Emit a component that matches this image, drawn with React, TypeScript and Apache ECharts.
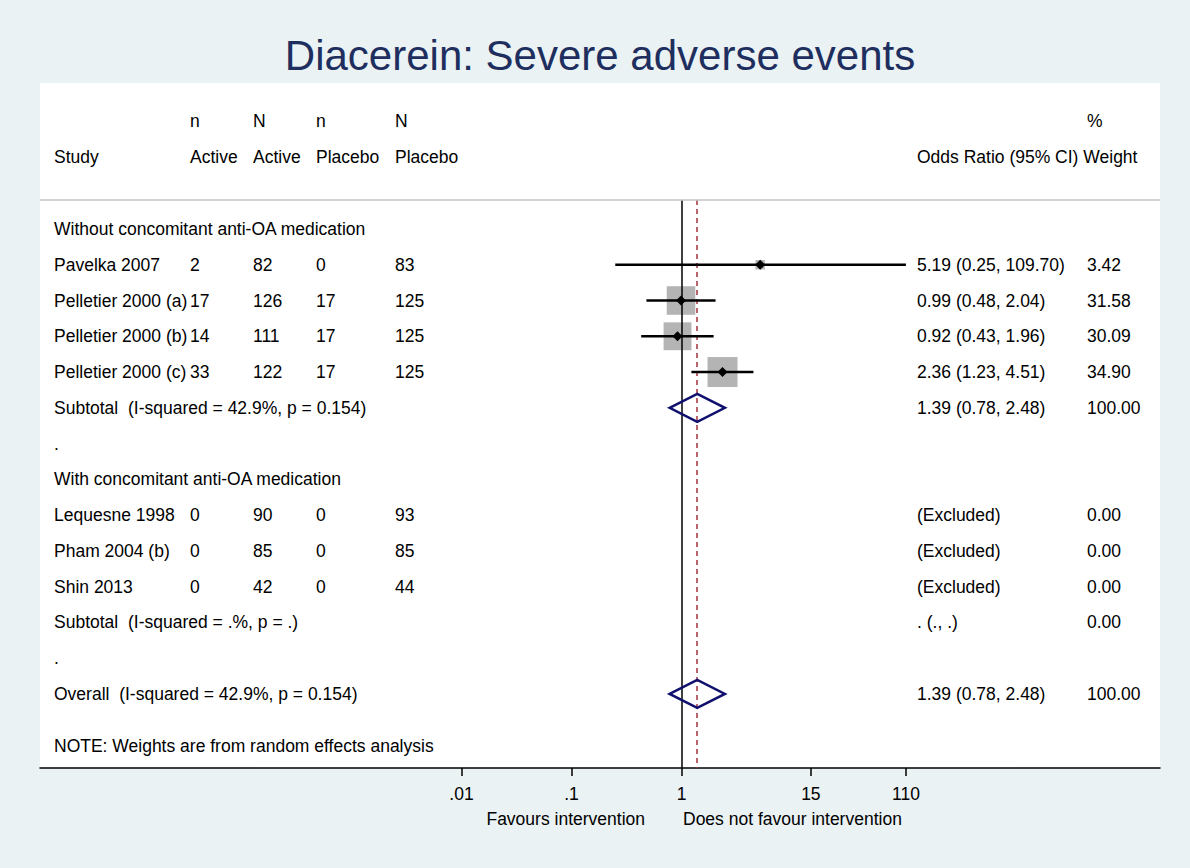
import React, { useEffect, useRef } from "react";
import * as echarts from "echarts";

// ---------- data ----------
const rowStudy = [
  "Without concomitant anti-OA medication",
  "Pavelka 2007",
  "Pelletier 2000 (a)",
  "Pelletier 2000 (b)",
  "Pelletier 2000 (c)",
  "Subtotal  (I-squared = 42.9%, p = 0.154)",
  ".",
  "With concomitant anti-OA medication",
  "Lequesne 1998",
  "Pham 2004 (b)",
  "Shin 2013",
  "Subtotal  (I-squared = .%, p = .)",
  ".",
  "Overall  (I-squared = 42.9%, p = 0.154)",
];
const nActive = ["", "2", "17", "14", "33", "", "", "", "0", "0", "0", "", "", ""];
const NActive = ["", "82", "126", "111", "122", "", "", "", "90", "85", "42", "", "", ""];
const nPlacebo = ["", "0", "17", "17", "17", "", "", "", "0", "0", "0", "", "", ""];
const NPlacebo = ["", "83", "125", "125", "125", "", "", "", "93", "85", "44", "", "", ""];
const orCI = [
  "", "5.19 (0.25, 109.70)", "0.99 (0.48, 2.04)", "0.92 (0.43, 1.96)", "2.36 (1.23, 4.51)",
  "1.39 (0.78, 2.48)", "", "", "(Excluded)", "(Excluded)", "(Excluded)", ". (., .)", "", "1.39 (0.78, 2.48)",
];
const weightText = ["", "3.42", "31.58", "30.09", "34.90", "100.00", "", "", "0.00", "0.00", "0.00", "0.00", "", "100.00"];

const studyRows = [1, 2, 3, 4];
const studyOR = [5.19, 0.99, 0.92, 2.36];
const studyLo = [0.25, 0.48, 0.43, 1.23];
const studyHi = [109.7, 2.04, 1.96, 4.51];
const studyWeight = [3.42, 31.58, 30.09, 34.9];

const pooledRows = [5, 13];
const pooledOR = [1.39, 1.39];
const pooledLo = [0.78, 0.78];
const pooledHi = [2.48, 2.48];

const refLine = 1;
const pooledLine = 1.39;

const xTicks = [0.01, 0.1, 1, 15, 110];
const xTickLabels = [".01", ".1", "1", "15", "110"];

const headerTop = ["n", "N", "n", "N"];
const headerBottom = ["Active", "Active", "Placebo", "Placebo"];

// ---------- styling ----------
const FONT = "'Liberation Sans', Arial, Helvetica, sans-serif";
const FS = 17.5;
const colX = { study: 54, nA: 190, NA: 253, nP: 316, NP: 395, or: 917, w: 1087 };

export default function App() {
  const ref = useRef<HTMLDivElement>(null);
  useEffect(() => {
    if (!ref.current) return;
    const chart = echarts.init(ref.current, undefined, { renderer: "svg" });

    const txt = (text: string, x: number, y: number, extra: any = {}) => ({
      type: "text",
      x,
      y,
      style: { text, fill: "#000", fontSize: FS, fontFamily: FONT, align: "left", verticalAlign: "middle", ...extra },
    });

    const headerCols = [colX.nA, colX.NA, colX.nP, colX.NP];
    const graphics: any[] = [
      { type: "rect", z: -10, shape: { x: 40, y: 83, width: 1120, height: 685 }, style: { fill: "#ffffff" } },
      {
        type: "text", x: 600, y: 55, z: 10,
        style: { text: "Diacerein: Severe adverse events", fill: "#1e2e5e", fontSize: 42, fontFamily: FONT, align: "center", verticalAlign: "middle" },
      },
      { type: "line", z: 5, shape: { x1: 40, y1: 200, x2: 1160, y2: 200 }, style: { stroke: "#c4c4c4", lineWidth: 1.5 } },
      txt("Study", colX.study, 157),
      ...headerCols.map((x, i) => txt(headerTop[i], x, 121)),
      ...headerCols.map((x, i) => txt(headerBottom[i], x, 157)),
      txt("%", colX.w, 121),
      txt("Odds Ratio (95% CI) Weight", colX.or, 157),
      txt("NOTE: Weights are from random effects analysis", colX.study, 746),
      txt("Favours intervention", 645, 819, { align: "right" }),
      txt("Does not favour intervention", 683, 819),
    ];

    const option: any = {
      animation: false,
      backgroundColor: "#eaf2f3",
      textStyle: { fontFamily: FONT },
      grid: { left: 40, right: 30, top: 200, bottom: 100, containLabel: false },
      xAxis: {
        type: "log",
        logBase: 10,
        position: "bottom",
        min: Math.pow(10, (40 - 681.5) / 110),
        max: Math.pow(10, (1160 - 681.5) / 110),
        axisLine: { show: true, onZero: false, lineStyle: { color: "#000", width: 1.5 } },
        axisTick: { show: true, inside: false, length: 8, customValues: xTicks, lineStyle: { color: "#000", width: 1.5 } },
        axisLabel: {
          show: true,
          customValues: xTicks,
          margin: 17,
          color: "#000",
          fontSize: FS,
          fontFamily: FONT,
          formatter: (v: number) => {
            const i = xTicks.findIndex((t) => Math.abs(t - v) / t < 1e-6);
            return i >= 0 ? xTickLabels[i] : "";
          },
        },
        splitLine: { show: false },
        minorTick: { show: false },
      },
      yAxis: {
        type: "value",
        inverse: true,
        min: -0.81,
        max: 15.07,
        show: false,
        splitLine: { show: false },
      },
      graphic: { elements: graphics },
      series: [
        {
          type: "custom",
          name: "table",
          z: 3,
          data: rowStudy.map((_, i) => [1, i]),
          encode: { x: 0, y: 1 },
          renderItem: (params: any, api: any) => {
            const i = params.dataIndex;
            const y = api.coord([1, api.value(1)])[1];
            const cells: [string, number][] = [
              [rowStudy[i], colX.study],
              [nActive[i], colX.nA],
              [NActive[i], colX.NA],
              [nPlacebo[i], colX.nP],
              [NPlacebo[i], colX.NP],
              [orCI[i], colX.or],
              [weightText[i], colX.w],
            ];
            return {
              type: "group",
              children: cells
                .filter((c) => c[0] !== "")
                .map((c) => ({
                  type: "text",
                  x: c[1],
                  y,
                  style: { text: c[0], fill: "#000", fontSize: FS, fontFamily: FONT, align: "left", verticalAlign: "middle" },
                })),
            };
          },
        },
        {
          type: "scatter",
          name: "boxes",
          z: 2,
          symbol: "rect",
          data: studyRows.map((r, i) => [studyOR[i], r, studyWeight[i]]),
          symbolSize: (v: number[]) => Math.sqrt(v[2]) * 5.08,
          itemStyle: { color: "#b4b4b4", opacity: 1 },
          markLine: {
            symbol: "none",
            silent: true,
            label: { show: false },
            z: 4,
            data: [
              { xAxis: refLine, lineStyle: { color: "#000", type: "solid", width: 1.5 } },
              { xAxis: pooledLine, lineStyle: { color: "#a3303c", type: [5, 4], width: 1.5 } },
            ],
          },
        },
        {
          type: "custom",
          name: "ci",
          z: 5,
          data: studyRows.map((r, i) => [studyLo[i], studyHi[i], r]),
          encode: { x: [0, 1], y: 2 },
          renderItem: (_p: any, api: any) => {
            const a = api.coord([api.value(0), api.value(2)]);
            const b = api.coord([api.value(1), api.value(2)]);
            return { type: "line", shape: { x1: a[0], y1: a[1], x2: b[0], y2: b[1] }, style: { stroke: "#000", lineWidth: 2.5 } };
          },
        },
        {
          type: "scatter",
          name: "points",
          z: 6,
          symbol: "diamond",
          symbolSize: 10,
          data: studyRows.map((r, i) => [studyOR[i], r]),
          itemStyle: { color: "#000", opacity: 1 },
        },
        {
          type: "custom",
          name: "pooled",
          z: 6,
          data: pooledRows.map((r, i) => [pooledLo[i], pooledOR[i], pooledHi[i], r]),
          encode: { x: [0, 1, 2], y: 3 },
          renderItem: (_p: any, api: any) => {
            const r = api.value(3);
            const a = api.coord([api.value(0), r]);
            const m = api.coord([api.value(1), r]);
            const b = api.coord([api.value(2), r]);
            const h = 14;
            return {
              type: "polygon",
              shape: { points: [[a[0], a[1]], [m[0], m[1] - h], [b[0], b[1]], [m[0], m[1] + h]] },
              style: { fill: "none", stroke: "#10106e", lineWidth: 2.5 },
            };
          },
        },
      ],
    };
    chart.setOption(option);
    return () => chart.dispose();
  }, []);
  return <div ref={ref} style={{ position: "fixed", left: 0, top: 0, width: 1190, height: 868 }} />;
}
